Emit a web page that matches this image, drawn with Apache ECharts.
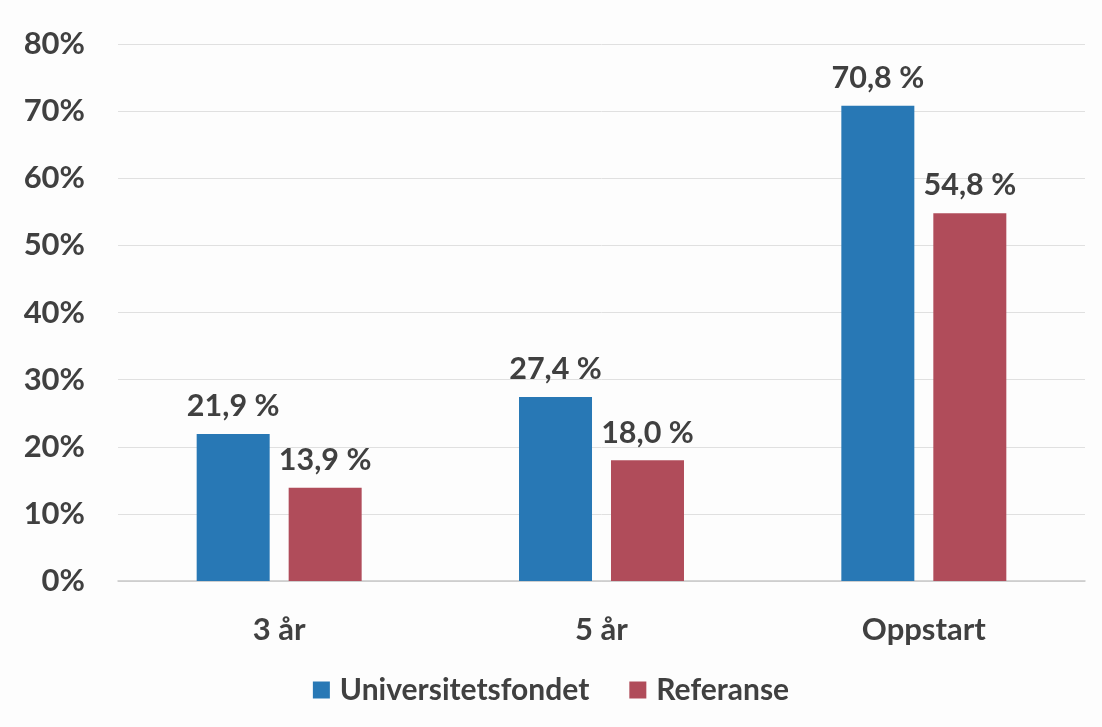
<!DOCTYPE html>
<html>
<head>
<meta charset="utf-8">
<script src="https://cdn.jsdelivr.net/npm/echarts@6/dist/echarts.min.js"></script>
<style>
  html, body { margin: 0; padding: 0; background: #fdfdfd; }
  #chart { width: 1102px; height: 727px; }
</style>
</head>
<body>
<div id="chart"></div>
<script>
const categories = ["3 år", "5 år", "Oppstart"];
const universitetsfondet = [21.9, 27.4, 70.8];
const referanse = [13.9, 18.0, 54.8];
const seriesNames = ["Universitetsfondet", "Referanse"];

const font = "Lato, 'Open Sans', sans-serif";
const textColor = "#404040";

const chart = echarts.init(document.getElementById("chart"));

const labelFmt = (p) => p.value.toFixed(1).replace(".", ",") + " %";

const option = {
  backgroundColor: "#fdfdfd",
  animation: false,
  grid: { left: 118, right: 17, top: 44, bottom: 146 },
  legend: {
    bottom: 17,
    left: "center",
    itemWidth: 17,
    itemHeight: 17,
    itemGap: 40,
    icon: "rect",
    textStyle: {
      fontFamily: font, fontSize: 30, fontWeight: "bold", color: textColor,
      padding: [0, 0, 0, 5]
    }
  },
  xAxis: {
    type: "category",
    data: categories,
    axisTick: { show: false },
    axisLine: { lineStyle: { color: "#c8c8c8", width: 1.5 } },
    axisLabel: { fontFamily: font, fontSize: 31, fontWeight: "bold", color: textColor, margin: 33 }
  },
  yAxis: {
    type: "value",
    min: 0,
    max: 80,
    interval: 10,
    axisLine: { show: false },
    axisTick: { show: false },
    splitLine: { lineStyle: { color: "#e0e0e0", width: 1 } },
    axisLabel: {
      fontFamily: font, fontSize: 31, fontWeight: "bold", color: textColor, margin: 33,
      formatter: (v) => v + "%"
    }
  },
  series: [
    {
      name: seriesNames[0],
      type: "bar",
      data: universitetsfondet,
      barWidth: 73,
      barGap: "26%",
      itemStyle: { color: "#2878b5" },
      label: {
        show: true, position: "top", distance: 12, formatter: labelFmt,
        fontFamily: font, fontSize: 30.5, fontWeight: "bold", color: textColor
      }
    },
    {
      name: seriesNames[1],
      type: "bar",
      data: referanse,
      barWidth: 73,
      itemStyle: { color: "#b04c5a" },
      label: {
        show: true, position: "top", distance: 12, formatter: labelFmt,
        fontFamily: font, fontSize: 30.5, fontWeight: "bold", color: textColor
      }
    }
  ]
};

chart.setOption(option);
</script>
</body>
</html>
